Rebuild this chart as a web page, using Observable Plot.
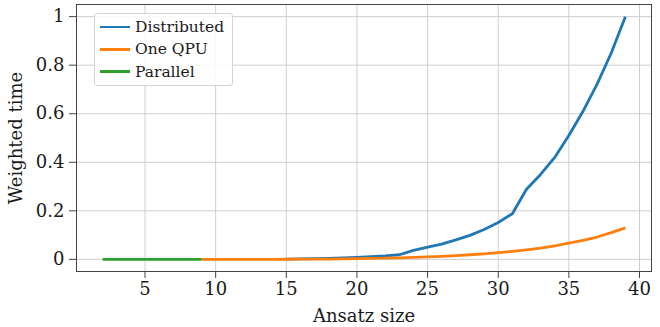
<!DOCTYPE html>
<html>
<head>
<meta charset="utf-8">
<script src="https://cdn.jsdelivr.net/npm/d3@7"></script>
<script src="https://cdn.jsdelivr.net/npm/@observablehq/plot@0.6"></script>
<style>
  html, body { margin: 0; padding: 0; background: #fff; }
  #wrap { position: relative; width: 660px; height: 327px; }
  #legend { position: absolute; left: 94px; top: 13px; width: 139px; height: 73px;
    background: rgba(255,255,255,0.85); border: 1px solid #d4d4d4; border-radius: 3px; box-sizing: border-box;
    font-family: "DejaVu Serif", serif; font-size: 15.5px; color: #1a1a1a; }
  .item { position: absolute; left: 0; height: 22px; display: flex; align-items: center; }
  .swatch { display: inline-block; width: 30px; height: 2.6px; margin-left: 5px; margin-right: 5px; }
</style>
</head>
<body>
<div id="wrap"><div id="legend"></div></div>
<script>
// Series names and colours
const seriesNames = ["Distributed", "One QPU", "Parallel"];
const seriesColors = ["#1f77b4", "#ff7f0e", "#2ca02c"];

// Distributed
const distX = [15,16,17,18,19,20,21,22,23,24,25,26,27,28,29,30,31,32,33,34,35,36,37,38,39];
const distY = [0.001,0.002,0.003,0.004,0.006,0.008,0.011,0.014,0.019,0.037,0.05,0.063,0.08,0.099,0.123,0.152,0.188,0.289,0.35,0.42,0.51,0.61,0.722,0.85,1.0];

// One QPU
const qpuX = [9,10,11,12,13,14,15,16,17,18,19,20,21,22,23,24,25,26,27,28,29,30,31,32,33,34,35,36,37,38,39];
const qpuY = [0,0,0,0,0.0002,0.0003,0.0005,0.0007,0.001,0.0013,0.002,0.003,0.004,0.005,0.006,0.008,0.010,0.012,0.015,0.019,0.023,0.028,0.033,0.039,0.046,0.056,0.067,0.078,0.092,0.11,0.13];

// Parallel
const parX = [2,3,4,5,6,7,8,9];
const parY = [0,0,0,0,0,0,0,0];

// Axis ticks
const xTicks = [5,10,15,20,25,30,35,40];
const yTicks = [0,0.2,0.4,0.6,0.8,1];

const data = [
  ...distX.map((x, i) => ({x, y: distY[i], s: seriesNames[0]})),
  ...qpuX.map((x, i) => ({x, y: qpuY[i], s: seriesNames[1]})),
  ...parX.map((x, i) => ({x, y: parY[i], s: seriesNames[2]}))
];

const font = "'DejaVu Serif', serif";
const chart = Plot.plot({
  width: 660,
  height: 327,
  marginLeft: 76,
  marginRight: 9,
  marginTop: 4,
  marginBottom: 56,
  style: {fontFamily: font, fontSize: "18px", color: "#1a1a1a", background: "transparent"},
  x: {domain: [0.15, 40.85]},
  y: {domain: [-0.05, 1.05]},
  color: {domain: seriesNames, range: seriesColors},
  marks: [
    Plot.gridX(xTicks, {stroke: "#c8c8c8", strokeOpacity: 1, strokeWidth: 0.9}),
    Plot.gridY(yTicks, {stroke: "#c8c8c8", strokeOpacity: 1, strokeWidth: 0.9}),
    Plot.frame({stroke: "#444", strokeWidth: 1}),
    Plot.axisX(xTicks, {tickSize: 7, tickPadding: 4, stroke: "#444", fontSize: 18, tickFormat: d => String(d),
      label: "Ansatz size", labelAnchor: "center", labelOffset: 50, labelArrow: "none"}),
    Plot.axisY(yTicks, {tickSize: 7, tickPadding: 5, stroke: "#444", fontSize: 18, tickFormat: d => String(d),
      label: "Weighted time", labelAnchor: "center", labelOffset: 67, labelArrow: "none"}),
    Plot.line(data, {x: "x", y: "y", z: "s", stroke: "s", strokeWidth: 2.8, strokeLinejoin: "round", strokeLinecap: "butt"})
  ]
});
document.getElementById("wrap").prepend(chart);

const legend = document.getElementById("legend");
seriesNames.forEach((name, i) => {
  const item = document.createElement("div");
  item.className = "item";
  item.style.top = (2 + i * 22.3) + "px";
  const sw = document.createElement("span");
  sw.className = "swatch";
  sw.style.background = seriesColors[i];
  const t = document.createElement("span");
  t.textContent = name;
  item.appendChild(sw);
  item.appendChild(t);
  legend.appendChild(item);
});
</script>
</body>
</html>
